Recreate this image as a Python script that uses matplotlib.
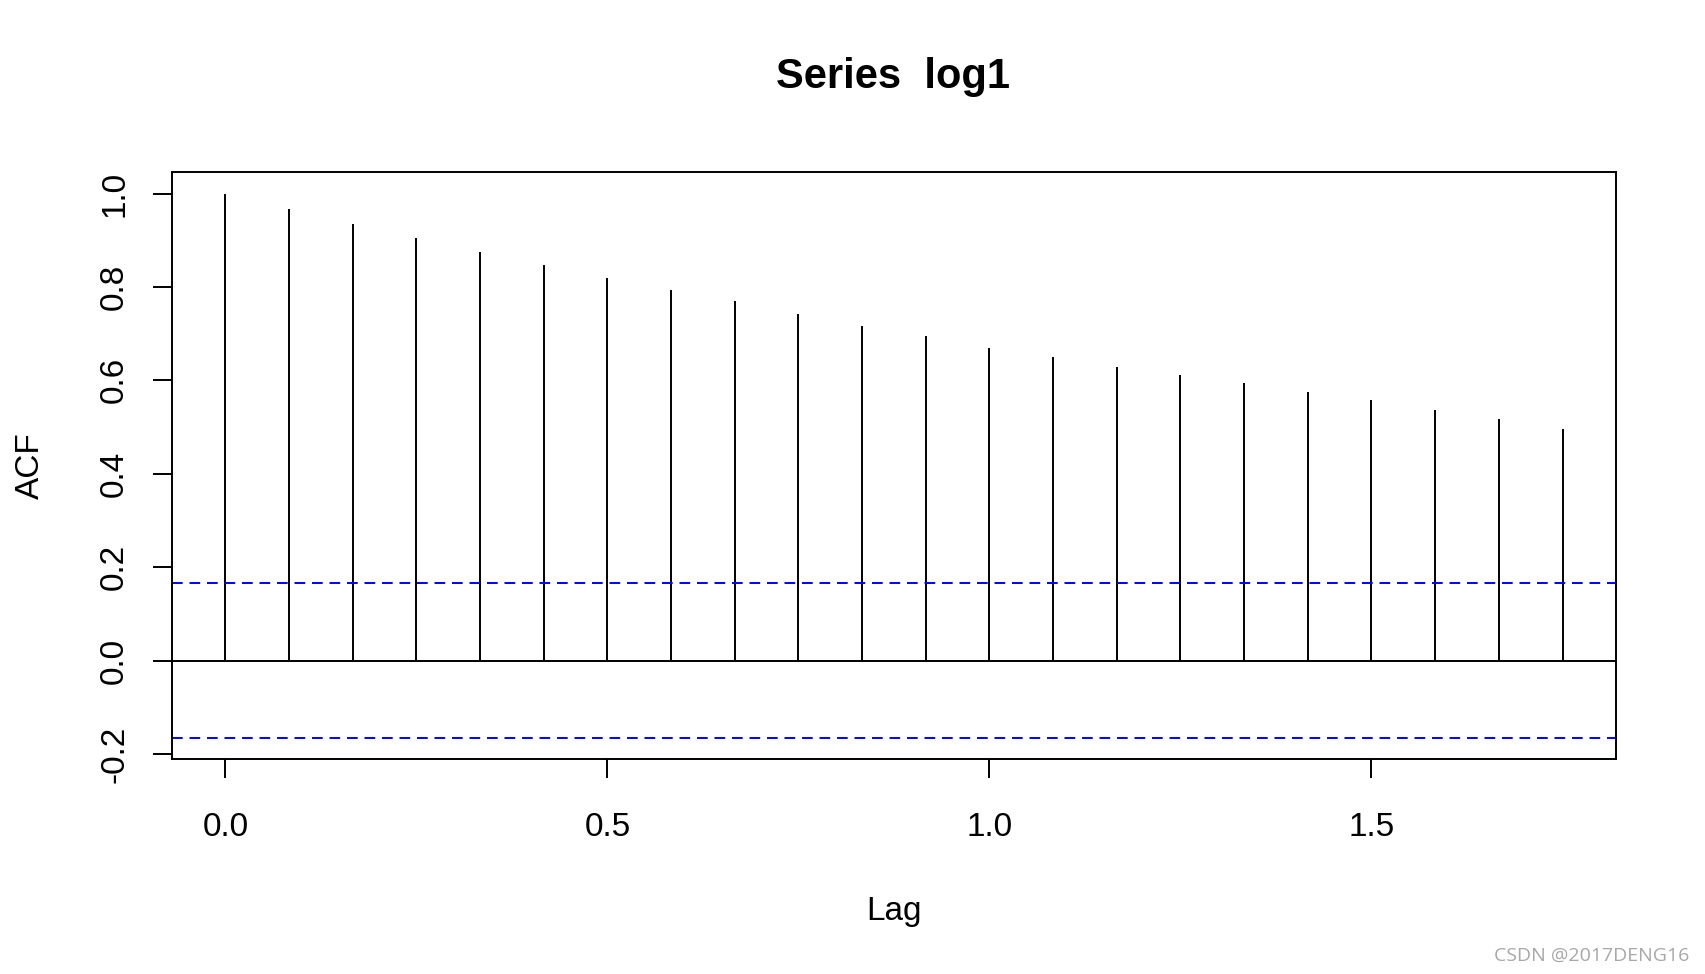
import matplotlib
matplotlib.use("Agg")
import matplotlib.pyplot as plt
import numpy as np

# ACF of series log1, lags in years (monthly data, 1/12 steps)
lags = np.arange(22) / 12
acf_vals = [1.000, 0.967, 0.935, 0.905, 0.875, 0.848, 0.820, 0.794, 0.769,
            0.743, 0.717, 0.694, 0.670, 0.649, 0.628, 0.611, 0.594, 0.576,
            0.557, 0.536, 0.517, 0.495]
ci = 0.165
xticks = [0.0, 0.5, 1.0, 1.5]
yticks = [-0.2, 0.0, 0.2, 0.4, 0.6, 0.8, 1.0]

plt.rcParams["font.family"] = ["Liberation Sans", "DejaVu Sans"]

fig = plt.figure(figsize=(17.05, 9.74), dpi=100)
ax = fig.add_axes([0.1008, 0.2207, 0.8470, 0.6029])

ax.vlines(lags, 0, acf_vals, color="black", lw=1.4)
ax.axhline(0, color="black", lw=1.4)
for c in (ci, -ci):
    ax.axhline(c, color="#0000ff", lw=1.4, linestyle=(0, (5.5, 3.5)))

ax.set_xlim(-0.07, 1.82)
ax.set_ylim(-0.211, 1.0466)

ax.set_xticks(xticks)
ax.set_xticklabels([f"{t:.1f}" for t in xticks])
ax.set_yticks(yticks)
ax.set_yticklabels([f"{t:.1f}" for t in yticks], rotation=90, va="center")
ax.tick_params(axis="both", labelsize=24, length=14, width=1.4, direction="out")
ax.tick_params(axis="x", pad=24)
ax.tick_params(axis="y", pad=16)
for s in ax.spines.values():
    s.set_linewidth(1.4)

ax.set_xlabel("Lag", fontsize=24, labelpad=38)
ax.set_ylabel("ACF", fontsize=24, labelpad=38)
fig.text(0.524, 0.9205, "Series  log1", fontsize=30, fontweight="bold",
         ha="center", va="center")

fig.text(0.991, 0.009, "CSDN @2017DENG16", fontsize=14, color="#a8a8a8",
         ha="right", va="bottom", family=["Open Sans", "DejaVu Sans"])

fig.savefig("out.png", dpi=100)
